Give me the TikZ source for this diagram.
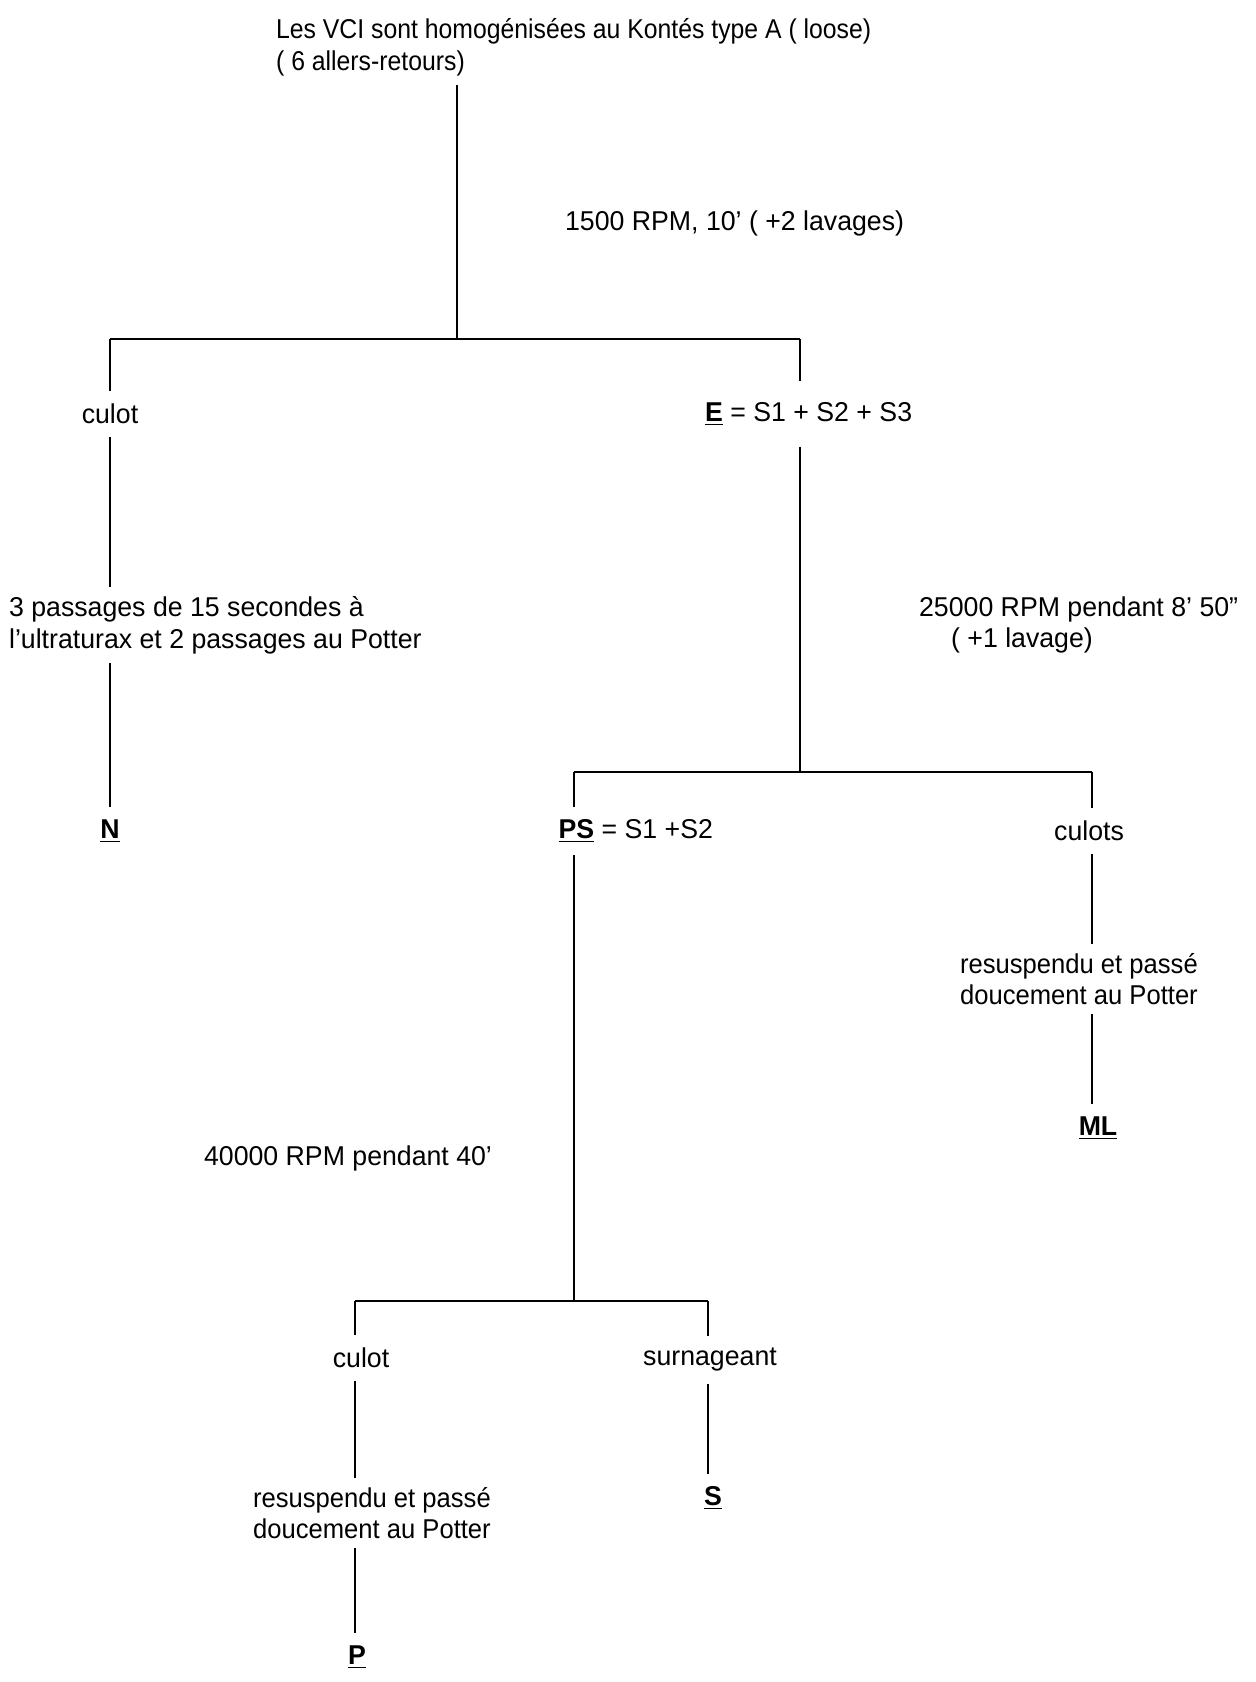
\documentclass[tikz,border=0pt]{standalone}
\usepackage{fontspec}
\setmainfont[FakeStretch=0.98]{Liberation Sans}
\newfontfamily\narrowfont[FakeStretch=0.91]{Liberation Sans}
\newfontfamily\semifont[FakeStretch=0.94]{Liberation Sans}
\begin{document}
\begin{tikzpicture}[x=0.02cm,y=-0.02cm,
  txt/.style={font=\fontsize{15.5pt}{18pt}\selectfont, inner sep=5pt, align=left},
  lbl/.style={font=\fontsize{15.5pt}{18pt}\selectfont, inner sep=7pt},
  ln/.style={draw=black, line width=0.8pt},
  bar/.style={draw=black, line width=1.6pt}]
\useasboundingbox (0,0) rectangle (1255,1682);
% top
\node[txt, anchor=west, font=\fontsize{15.5pt}{18pt}\narrowfont] (title) at (267,47) {Les VCI sont homogénisées au Kontés type A ( loose)\\( 6 allers-retours)};
\coordinate (j1) at (457,339);
\node[txt, anchor=west] (rpm1) at (556,223) {1500 RPM, 10' ( +2 lavages)};
\coordinate (l1) at (110,339);
\coordinate (r1) at (800,339);
\draw[ln] (j1 |- title.south) -- (j1);
\draw[bar] (l1) -- (r1);
% left branch
\node[lbl] (culotA) at (110,414) {culot};
\node[txt, anchor=west] (pass) at (0,625) {3 passages de 15 secondes à\\l'ultraturax et 2 passages au Potter};
\node[lbl] (N) at (110,831) {\underline{\textbf{N}}};
\draw[ln] (l1) -- (l1 |- culotA.north);
\draw[ln] (culotA.south) -- (l1 |- pass.north);
\draw[ln] (l1 |- pass.south) -- (N.north);
% right branch
\node[lbl, anchor=west, inner xsep=5pt, inner ysep=12pt] (E) at (696,414) {\underline{\textbf{E}} = S1 + S2 + S3};
\coordinate (j2) at (800,772);
\draw[ln] (r1) -- (r1 |- E.north);
\draw[ln] (r1 |- E.south) -- (j2);
\node[txt, anchor=west] (rpm2) at (910,625) {25000 RPM pendant 8' 50"\\\hspace*{0.64cm}( +1 lavage)};
\coordinate (l2) at (574,772);
\coordinate (r2) at (1092,772);
\draw[bar] (l2) -- (r2);
\node[lbl, anchor=west] (PS) at (546,831) {\underline{\textbf{PS}} = S1 +S2};
\node[lbl] (culots) at (1089,831) {culots};
\node[txt, anchor=west, font=\fontsize{15.5pt}{18pt}\semifont] (resA) at (951,979) {resuspendu et passé\\doucement au Potter};
\node[lbl] (ML) at (1098,1128) {\underline{\textbf{ML}}};
\draw[ln] (l2) -- (l2 |- PS.north);
\draw[ln] (r2) -- (r2 |- culots.north);
\draw[ln] (r2 |- culots.south) -- (r2 |- resA.north);
\draw[ln] (r2 |- resA.south) -- (r2 |- ML.north);
% PS branch
\node[txt, anchor=west] (rpm3) at (195,1158) {40000 RPM pendant 40'};
\coordinate (j3) at (574,1301);
\draw[ln] (l2 |- PS.south) -- (j3);
\coordinate (l3) at (355,1301);
\coordinate (r3) at (708,1301);
\draw[bar] (l3) -- (r3);
\node[lbl] (culotB) at (361,1358) {culot};
\node[lbl] (surn) at (710,1360) {surnageant};
\node[txt, anchor=west, font=\fontsize{15.5pt}{18pt}\semifont] (resB) at (244,1513) {resuspendu et passé\\doucement au Potter};
\node[lbl] (P) at (357,1657) {\underline{\textbf{P}}};
\node[lbl] (S) at (713,1498) {\underline{\textbf{S}}};
\draw[ln] (l3) -- (l3 |- culotB.north);
\draw[ln] (l3 |- culotB.south) -- (l3 |- resB.north);
\draw[ln] (l3 |- resB.south) -- (l3 |- P.north);
\draw[ln] (r3) -- (r3 |- surn.north);
\draw[ln] (r3 |- surn.south) -- (r3 |- S.north);
\end{tikzpicture}
\end{document}
